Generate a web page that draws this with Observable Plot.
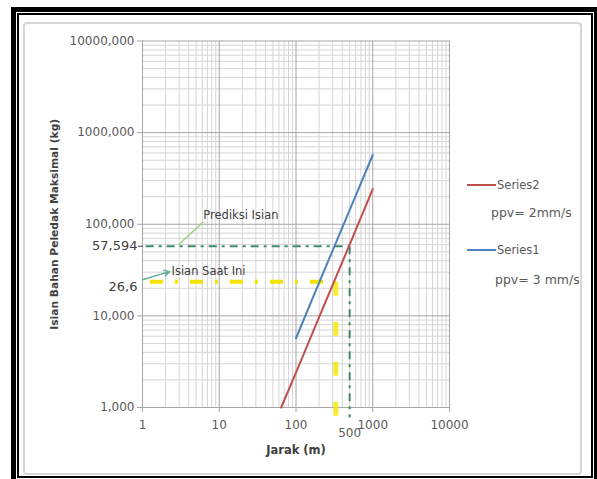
<!DOCTYPE html>
<html><head><meta charset="utf-8">
<script src="https://cdn.jsdelivr.net/npm/d3@7"></script>
<script src="https://cdn.jsdelivr.net/npm/@observablehq/plot@0.6"></script>
<style>
body{margin:0;background:#fff;}
#wrap{position:relative;width:597px;height:479px;overflow:hidden;font-family:"DejaVu Sans",sans-serif;background:#fff;}
#chart{position:absolute;left:0;top:0;}
.frame{position:absolute;pointer-events:none;box-sizing:border-box;}
.leg{position:absolute;color:#595959;white-space:nowrap;transform:translateY(-50%);}
.legline{position:absolute;height:2px;}
</style></head><body>
<div id="wrap">
  <div id="chart"></div>
  <div class="frame" style="left:23px;top:22px;width:559px;height:453px;border:2px solid #d6d6d6;border-radius:4px"></div>
  <div class="frame" style="left:11px;top:7px;width:588px;height:480px;border:5px solid #000"></div>
  <div class="frame" style="left:17px;top:13px;width:576px;height:465px;border:2px solid #000"></div>
  <div id="legend"></div>
</div>
<script>
// ---- data ----
const xTicks = [1, 10, 100, 1000, 10000];
const xTickLabels = ["1", "10", "100", "1000", "10000"];
const yTicks = [1, 10, 100, 1000, 10000];
const yTickLabels = ["1,000", "10,000", "100,000", "1000,000", "10000,000"];

// Series2 (ppv = 2 mm/s)
const s2Jarak = [64, 100, 200, 500, 1000];
const s2Isian = [1, 2.4, 9.7, 60, 242];
// Series1 (ppv = 3 mm/s)
const s1Jarak = [100, 200, 500, 1000];
const s1Isian = [5.7, 23, 143, 570];

const seriesNames = ["Series2", "Series1"];
const seriesPpv = ["ppv= 2mm/s", "ppv= 3 mm/s"];
const seriesColors = ["#c0504d", "#4f81bd"];

// reference lines
const predJarak = 500, predIsian = 57.594, predLabel = "57,594", predXLabel = "500";
const nowJarak = 330, nowIsian = 23.6, nowLabel = "26,6";
const predLineStart = 1.1, nowLineStart = 1.25, vLineEnd = [0.78, 0.72], predTickStart = 0.87;

// annotations
const annPred = {text: "Prediksi Isian", x: 6.2, y: 124, fromX: 2.94, fromY: 59.8, toX: 6.2, toY: 106};
const annNow = {text: "Isian Saat Ini", x: 2.39, y: 30.4, fromX: 1, fromY: 24.8, toX: 2.25, toY: 30.4};

// ---- build ----
const s2 = s2Jarak.map((x, i) => ({x, y: s2Isian[i]}));
const s1 = s1Jarak.map((x, i) => ({x, y: s1Isian[i]}));
const logTicks = d3.scaleLog().domain([1, 10000]).ticks();
const minorTicks = logTicks.filter(d => !xTicks.includes(d));

const chart = Plot.plot({
  width: 597, height: 479,
  marginLeft: 142, marginRight: 148, marginTop: 40.5, marginBottom: 72,
  x: {type: "log", domain: [1, 10000]},
  y: {type: "log", domain: [1, 10000]},
  style: {fontFamily: "DejaVu Sans, sans-serif", fontSize: "12px", color: "#595959", background: "transparent", overflow: "visible"},
  marks: [
    Plot.ruleX(minorTicks, {x: d => d, stroke: "#d5d5d5", strokeWidth: 1}),
    Plot.ruleY(minorTicks, {y: d => d, stroke: "#d5d5d5", strokeWidth: 1}),
    Plot.ruleX(xTicks, {x: d => d, stroke: "#a6a6a6", strokeWidth: 1}),
    Plot.ruleY(yTicks, {y: d => d, stroke: "#a6a6a6", strokeWidth: 1}),
    Plot.axisX(xTicks, {anchor: "bottom", tickSize: 5, tickPadding: 8, stroke: "#a6a6a6",
      tickFormat: d => xTickLabels[xTicks.indexOf(d)], label: null}),
    Plot.axisY(yTicks, {anchor: "left", tickSize: 5, tickPadding: 3, stroke: "#a6a6a6",
      tickFormat: d => yTickLabels[yTicks.indexOf(d)], label: null}),
    Plot.link([predIsian], {x1: () => predTickStart, x2: () => 1, y1: d => d, y2: d => d, stroke: "#404040", strokeWidth: 1}),
    Plot.text([predIsian], {y: d => d, frameAnchor: "left", dx: -5, textAnchor: "end",
      text: () => predLabel, fontSize: 13, fill: "#404040"}),
    Plot.text([nowIsian], {y: d => d, frameAnchor: "left", dx: -5, dy: 5, textAnchor: "end",
      text: () => nowLabel, fontSize: 13, fill: "#404040"}),
    Plot.text([predJarak], {x: d => d, frameAnchor: "bottom", dy: 29, text: () => predXLabel, fontSize: 12, fill: "#595959"}),
    // reference lines
    Plot.link([0], {x1: () => predLineStart, x2: () => predJarak, y1: () => predIsian, y2: () => predIsian,
      stroke: "#3f8a6a", strokeWidth: 2, strokeDasharray: "8,5,3,5"}),
    Plot.link([0], {x1: () => predJarak, x2: () => predJarak, y1: () => predIsian, y2: () => vLineEnd[0],
      stroke: "#3f8a6a", strokeWidth: 2, strokeDasharray: "8,5,3,5"}),
    Plot.link([0], {x1: () => nowLineStart, x2: () => nowJarak, y1: () => nowIsian, y2: () => nowIsian,
      stroke: "#f2e400", strokeWidth: 4, strokeDasharray: "13,12,3,12"}),
    Plot.link([0], {x1: () => nowJarak, x2: () => nowJarak, y1: () => nowIsian, y2: () => vLineEnd[1],
      stroke: "#f2e800", strokeWidth: 5, strokeOpacity: 0.8, strokeDasharray: "14,26"}),
    // series
    Plot.line(s2, {x: "x", y: "y", stroke: seriesColors[0], strokeWidth: 2}),
    Plot.line(s1, {x: "x", y: "y", stroke: seriesColors[1], strokeWidth: 2}),
    // annotations
    Plot.link([annPred], {x1: "fromX", y1: "fromY", x2: "toX", y2: "toY", stroke: "#9fcf86", strokeWidth: 1.5}),
    Plot.text([annPred], {x: "x", y: "y", text: "text", textAnchor: "start", fontSize: 11.5, fill: "#404040"}),
    Plot.arrow([annNow], {x1: "fromX", y1: "fromY", x2: "toX", y2: "toY", stroke: "#62b09a", strokeWidth: 1.5, headLength: 6, inset: 0}),
    Plot.text([annNow], {x: "x", y: "y", text: "text", textAnchor: "start", fontSize: 11.5, fill: "#404040"}),
    // axis titles
    Plot.text(["Jarak (m)"], {frameAnchor: "bottom", dy: 46, text: d => d, fontSize: 11.5, fontWeight: "bold", fill: "#404040"}),
    Plot.text(["Isian Bahan Peledak Maksimal (kg)"], {frameAnchor: "left", dx: -88, rotate: -90, textAnchor: "middle",
      text: d => d, fontSize: 10.7, fontWeight: "bold", fill: "#404040"})
  ]
});
document.getElementById("chart").appendChild(chart);

// legend
const legend = document.getElementById("legend");
const legRows = [{lineY: 185, ppvY: 212}, {lineY: 250, ppvY: 279}];
seriesNames.forEach((name, i) => {
  const r = legRows[i];
  legend.insertAdjacentHTML("beforeend",
    `<div class="legline" style="left:467px;top:${r.lineY - 1}px;width:29px;background:${seriesColors[i]}"></div>
     <div class="leg" style="left:497px;top:${r.lineY}px;font-size:11.5px">${name}</div>
     <div class="leg" style="left:${i ? 495 : 491}px;top:${r.ppvY}px;font-size:12.5px">${seriesPpv[i]}</div>`);
});
</script>
</body></html>
